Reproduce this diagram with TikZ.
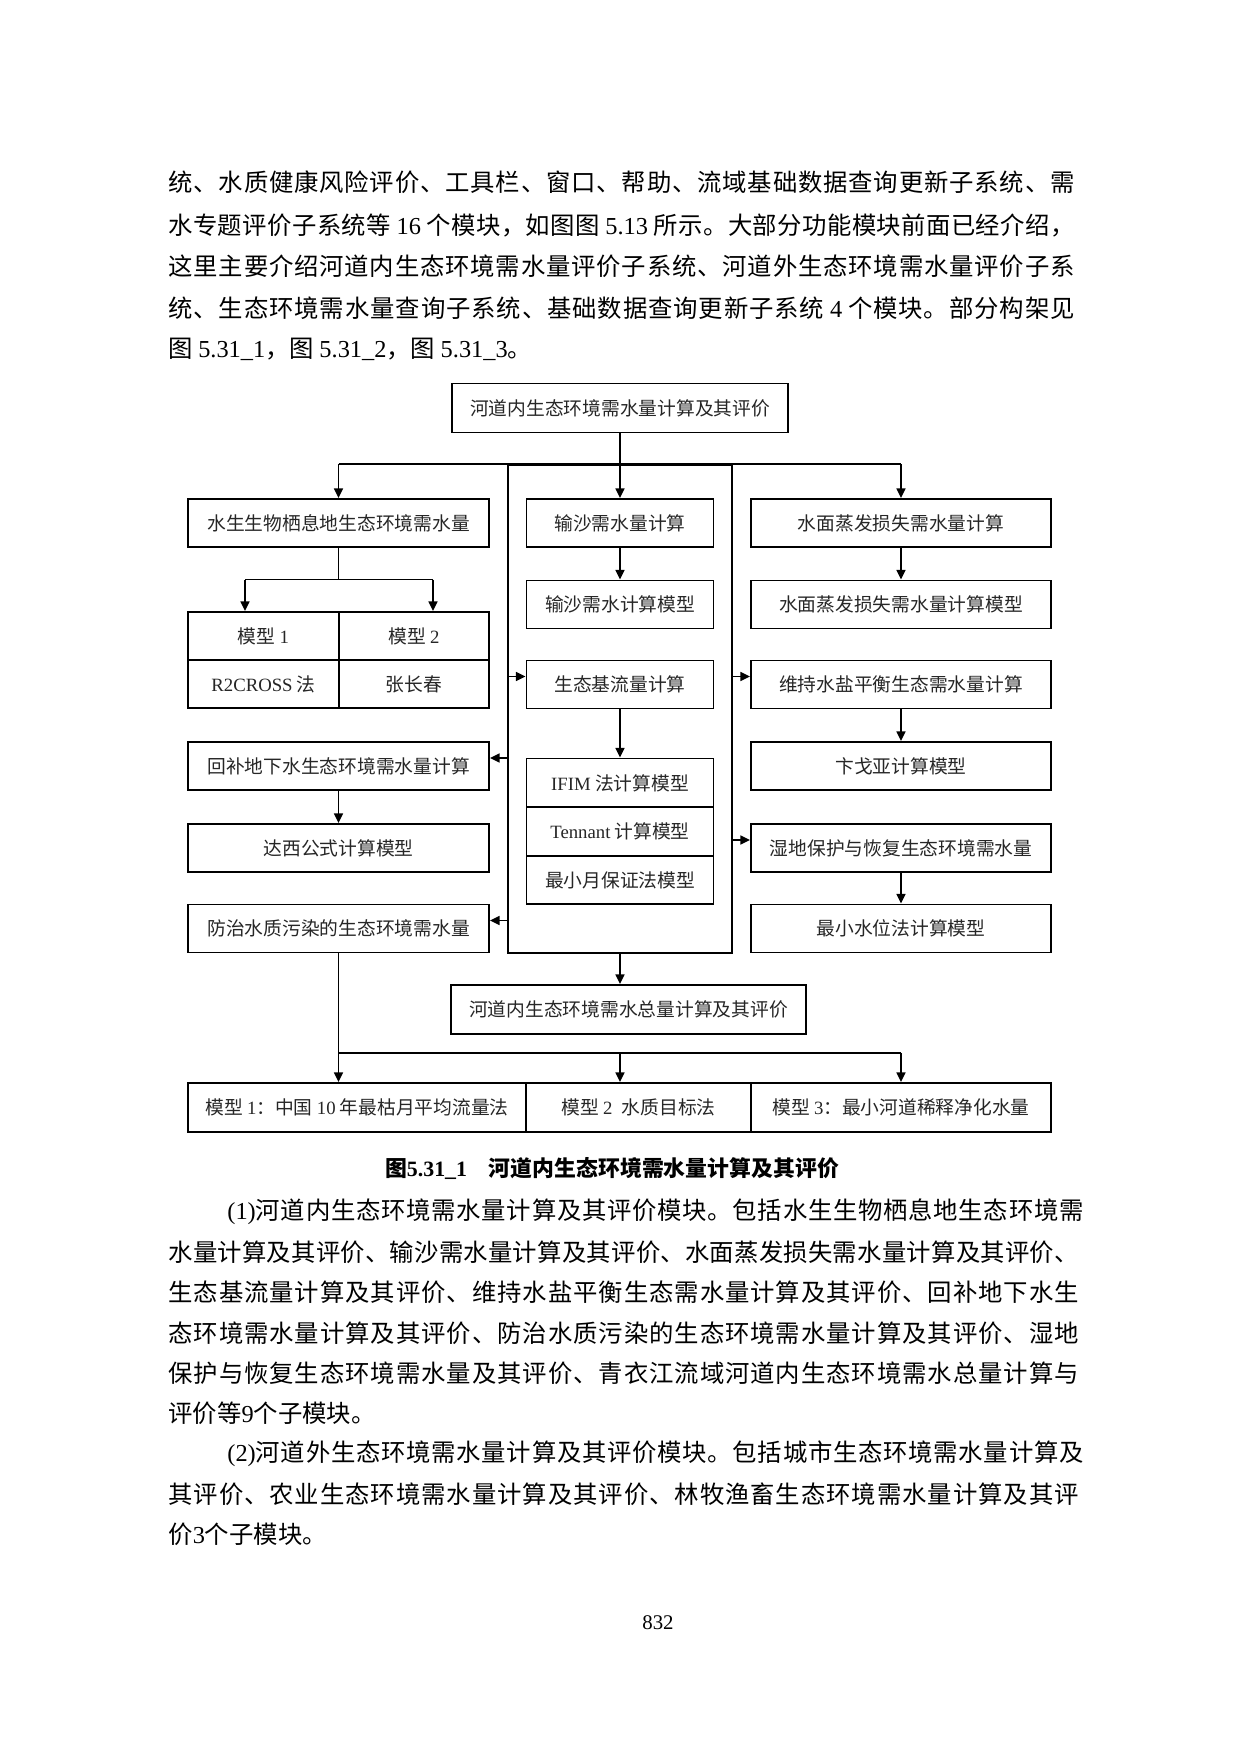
\documentclass[tikz,border=0pt]{standalone}
\usepackage{fontspec}
\setmainfont{Noto Sans CJK SC}
\newfontfamily\latinfont{Liberation Serif}
\newcommand\tnr[1]{{\latinfont #1}}
% glue between CJK characters, so that full lines can be justified
\XeTeXinterchartokenstate=1
\newcount\cjkidx
\newcommand\setcjkclass[2]{%
  \cjkidx=#1
  \loop \XeTeXcharclass\cjkidx=7 \ifnum\cjkidx<#2 \advance\cjkidx by 1 \repeat}
\setcjkclass{"4E00}{"9FFF}
\setcjkclass{"3000}{"303F}
\setcjkclass{"FF00}{"FFEF}
\XeTeXinterchartoks 7 7 = {\hskip 0pt plus 3pt minus 0.4pt\relax}
\usetikzlibrary{positioning,calc,arrows.meta}
\newlength\unitpx
\setlength\unitpx{0.48pt}
\newcommand\jline[2]{\hbox to #1pt{#2}}

\tikzset{
  box/.style={draw, line width=0.9pt, inner sep=0pt, minimum height=48*\unitpx, font=\fontsize{9pt}{11pt}\selectfont, text=black!85},
  lbox/.style={box, minimum width=301*\unitpx},
  mbox/.style={box, minimum width=187*\unitpx},
  rbox/.style={box, minimum width=300*\unitpx},
  link/.style={line width=0.9pt},
  arr/.style={line width=0.9pt, -{Triangle[length=4.6pt,width=4.2pt]}},
  bodyline/.style={anchor=west, inner sep=0pt, font=\fontsize{11.7pt}{14pt}\selectfont},
}

\begin{document}
\begin{tikzpicture}[x=\unitpx, y=-\unitpx]
\useasboundingbox[fill=white] (0,0) rectangle (1241,1754);

% text above the figure
\node[bodyline] (l1) at (168,182) {\jline{435}{统、水质健康风险评价、工具栏、窗口、帮助、流域基础数据查询更新子系统、需}};
\node[bodyline] (l2) at (168,225) {\jline{435}{水专题评价子系统等 \tnr{16} 个模块，如图图 \tnr{5.13} 所示。大部分功能模块前面已经介绍，}};
\node[bodyline] (l3) at (168,266) {\jline{435}{这里主要介绍河道内生态环境需水量评价子系统、河道外生态环境需水量评价子系}};
\node[bodyline] (l4) at (168,308) {\jline{435}{统、生态环境需水量查询子系统、基础数据查询更新子系统 \tnr{4} 个模块。部分构架见}};
\node[bodyline] (l5) at (168,349) {图 \tnr{5.31\_1}，图 \tnr{5.31\_2}，图 \tnr{5.31\_3}。};

% figure
\node[draw, line width=0.6pt, inner sep=0pt, minimum width=224*\unitpx, minimum height=488*\unitpx] (frame) at (620,709) {};
\node[box, minimum width=336*\unitpx, minimum height=49*\unitpx] (top) at (620,408) {河道内生态环境需水量计算及其评价};

\node[lbox] (habitat) at (338.5,523) {水生生物栖息地生态环境需水量};
\node[mbox] (sand) at (620,523) {输沙需水量计算};
\node[rbox] (evap) at (901,523) {水面蒸发损失需水量计算};
\node[mbox] (sandm) at (620,604.5) {输沙需水计算模型};
\node[rbox] (evapm) at (901,604.5) {水面蒸发损失需水量计算模型};

\node[box, minimum width=151*\unitpx] (mod1) at (263.5,636) {模型 \tnr{1}};
\node[box, minimum width=150*\unitpx] (mod2) at (414,636) {模型 \tnr{2}};
\node[box, minimum width=151*\unitpx] (r2cross) at (263.5,684) {\tnr{R2CROSS} 法};
\node[box, minimum width=150*\unitpx] (zhang) at (414,684) {张长春};

\node[mbox] (base) at (620,684.5) {生态基流量计算};
\node[rbox] (salt) at (901,684.5) {维持水盐平衡生态需水量计算};
\node[lbox] (recharge) at (338.5,766) {回补地下水生态环境需水量计算};
\node[rbox] (bian) at (901,766) {卞戈亚计算模型};
\node[mbox, minimum height=49*\unitpx] (ifim) at (620,783) {\tnr{IFIM} 法计算模型};
\node[mbox, minimum height=49*\unitpx] (tennant) at (620,831.5) {\tnr{Tennant} 计算模型};
\node[mbox] (minmonth) at (620,880) {最小月保证法模型};
\node[lbox] (darcy) at (338.5,848) {达西公式计算模型};
\node[rbox] (wetland) at (901,848) {湿地保护与恢复生态环境需水量};
\node[lbox] (pollut) at (338.5,928.5) {防治水质污染的生态环境需水量};
\node[rbox] (minlevel) at (901,928.5) {最小水位法计算模型};

\node[box, minimum width=355*\unitpx, minimum height=49*\unitpx] (total) at (628.5,1009.5) {河道内生态环境需水总量计算及其评价};
\node[box, minimum width=338*\unitpx, minimum height=49*\unitpx] (mod10) at (357,1107.5) {模型 \tnr{1}：中国 \tnr{10} 年最枯月平均流量法};
\node[box, minimum width=225*\unitpx, minimum height=49*\unitpx] (quality) at (638.5,1107.5) {模型 \tnr{2}\enspace 水质目标法};
\node[rbox, minimum height=49*\unitpx] (dilute) at (901,1107.5) {模型 \tnr{3}：最小河道稀释净化水量};

% connectors
\draw[arr] (top.south) -- (sand.north);
\draw[link] (habitat.north |- frame.north) -- (evap.north |- frame.north);
\draw[arr] (habitat.north |- frame.north) -- (habitat.north);
\draw[arr] (evap.north |- frame.north) -- (evap.north);

\coordinate (hsplit) at ($(habitat.south)!0.5!(habitat.south |- mod1.north)$);
\coordinate (t1) at ($(mod1.north)+(-18.5,0)$);
\coordinate (t2) at ($(mod2.north)+(19,0)$);
\draw[link] (habitat.south) -- (hsplit);
\draw[link] (t1 |- hsplit) -- (t2 |- hsplit);
\draw[arr] (t1 |- hsplit) -- (t1);
\draw[arr] (t2 |- hsplit) -- (t2);

\foreach \a/\b in {sand/sandm, evap/evapm, base/ifim, salt/bian, recharge/darcy, wetland/minlevel}
  \draw[arr] (\a.south) -- (\b.north);

\foreach \s/\n/\e in {west/base/west, east/salt/west, west/recharge/east, east/wetland/west, west/pollut/east}
  \draw[arr] ($(frame.\s |- \n)+(0,-8)$) -- ($(\n.\e)+(0,-8)$);

\draw[arr] (frame.south) -- (frame.south |- total.north);
\coordinate (lbar) at ($(pollut.south |- total.south)+(0,18)$);
\draw[link] (pollut.south) -- (lbar) -- (minlevel.south |- lbar);
\foreach \n in {pollut, frame, minlevel}
  \draw[arr] (\n.south |- lbar) -- (\n.south |- mod10.north);

\node[inner sep=0pt, font=\fontsize{10.5pt}{12pt}\selectfont\bfseries] (caption) at (612,1169) {图\tnr{5.31\_1}\quad 河道内生态环境需水量计算及其评价};

% text below the figure
\node[bodyline] (l6) at (227,1212) {\jline{411}{\tnr{(1)}河道内生态环境需水量计算及其评价模块。包括水生生物栖息地生态环境需}};
\node[bodyline] (l7) at (168,1252) {\jline{437}{水量计算及其评价、输沙需水量计算及其评价、水面蒸发损失需水量计算及其评价、}};
\node[bodyline] (l8) at (168,1292) {\jline{437}{生态基流量计算及其评价、维持水盐平衡生态需水量计算及其评价、回补地下水生}};
\node[bodyline] (l9) at (168,1333) {\jline{437}{态环境需水量计算及其评价、防治水质污染的生态环境需水量计算及其评价、湿地}};
\node[bodyline] (l10) at (168,1373) {\jline{437}{保护与恢复生态环境需水量及其评价、青衣江流域河道内生态环境需水总量计算与}};
\node[bodyline] (l11) at (168,1413) {评价等\tnr{9}个子模块。};
\node[bodyline] (l12) at (227,1454) {\jline{411}{\tnr{(2)}河道外生态环境需水量计算及其评价模块。包括城市生态环境需水量计算及}};
\node[bodyline] (l13) at (168,1494) {\jline{437}{其评价、农业生态环境需水量计算及其评价、林牧渔畜生态环境需水量计算及其评}};
\node[bodyline] (l14) at (168,1534) {价\tnr{3}个子模块。};

\node[inner sep=0pt, font=\fontsize{10pt}{12pt}\selectfont] (pageno) at (658,1623) {\tnr{832}};
\end{tikzpicture}
\end{document}
